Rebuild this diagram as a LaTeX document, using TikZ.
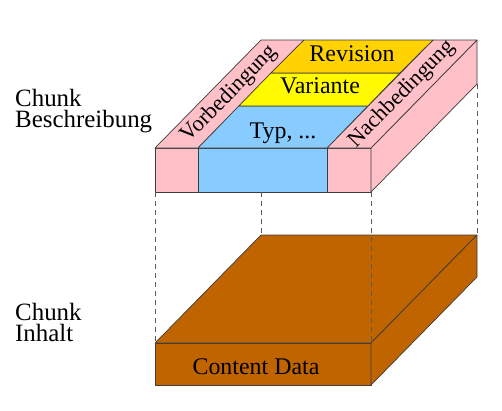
\documentclass[tikz,border=0pt]{standalone}
\usepackage{fontspec}
\setmainfont{Liberation Serif}
\newfontfamily\labelface{Liberation Serif}
\usetikzlibrary{calc}
\definecolor{stripPink}{RGB}{255,192,200}
\definecolor{typBlue}{RGB}{136,204,255}
\definecolor{varYellow}{RGB}{255,250,0}
\definecolor{revGold}{RGB}{255,210,0}
\definecolor{dataBrown}{RGB}{192,100,0}
\definecolor{edgeGray}{RGB}{60,60,60}
\definecolor{guideGray}{RGB}{90,90,90}
\begin{document}
\begin{tikzpicture}[x=1bp,y=-1bp,
  face/.style={draw=edgeGray, line width=0.7bp, line join=round},
  guide/.style={draw=guideGray, dash pattern=on 5bp off 4bp, line width=0.7bp},
  sidelbl/.style={font=\labelface\fontsize{25}{21}\selectfont, align=left, anchor=base west, inner sep=0pt},
  bandlbl/.style={font=\labelface\fontsize{24}{24}\selectfont, anchor=base, inner sep=0pt},
  striplbl/.style={font=\labelface\fontsize{22.5}{22.5}\selectfont, sloped, midway, inner sep=0pt}]
\useasboundingbox (0,0) rectangle (502,410);

% ---- description block (top) ----
% front face
\coordinate (tfl) at (155,148);
\coordinate (tfa) at (198,148);
\coordinate (tfb) at (327,148);
\coordinate (tfr) at (371,148);
\coordinate (bfl) at (155,192);
\coordinate (bfa) at (198,192);
\coordinate (bfb) at (327,192);
\coordinate (bfr) at (371,192);
% back edge of the top face
\coordinate (kbl) at (261,40);
\coordinate (kba) at (304,40);
\coordinate (kbb) at (433,40);
\coordinate (kbr) at (477,40);
\coordinate (kbrlow) at (477,84);

\path[face, fill=stripPink] (tfl) rectangle (bfa);
\path[face, fill=typBlue] (tfa) rectangle (bfb);
\path[face, fill=stripPink] (tfb) rectangle (bfr);
\path[face, fill=stripPink] (tfr) -- (kbr) -- (kbrlow) -- (bfr) -- cycle;

% top face: side strips
\path[face, fill=stripPink] (tfl) -- (tfa) -- (kba) -- (kbl) -- cycle;
\path[face, fill=stripPink] (tfb) -- (tfr) -- (kbr) -- (kbb) -- cycle;
% top face: middle bands
\coordinate (m1l) at ($(tfa)+(40.8,-42)$);
\coordinate (m1r) at ($(tfb)+(40.8,-42)$);
\coordinate (m2l) at ($(tfa)+(72.9,-75)$);
\coordinate (m2r) at ($(tfb)+(72.9,-75)$);
\path[face, fill=typBlue] (tfa) -- (tfb) -- (m1r) -- (m1l) -- cycle;
\path[face, fill=varYellow] (m1l) -- (m1r) -- (m2r) -- (m2l) -- cycle;
\path[face, fill=revGold] (m2l) -- (m2r) -- (kbb) -- (kba) -- cycle;

\node[bandlbl] (typ) at (283,138) {Typ, ...};
\node[bandlbl] (var) at (320,93) {Variante};
\node[bandlbl] (rev) at (352,61) {Revision};
\path (176.5,148) -- (282.5,40) node[striplbl] (vor) {Vorbedingung};
\path (349,148) -- (455,40) node[striplbl] (nach) {Nachbedingung};

% ---- content block (bottom) ----
\coordinate (cfl) at (155,343);
\coordinate (cfr) at (371,343);
\coordinate (cbl) at (155,385);
\coordinate (cbr) at (371,385);
\coordinate (ckl) at (261,235);
\coordinate (ckr) at (477,235);
\coordinate (ckrlow) at (477,277);

\path[face, fill=dataBrown] (cfl) rectangle (cbr);
\path[face, fill=dataBrown] (cfl) -- (ckl) -- (ckr) -- (cfr) -- cycle;
\path[face, fill=dataBrown] (cfr) -- (ckr) -- (ckrlow) -- (cbr) -- cycle;
\node[bandlbl] (data) at (256,374) {Content Data};

% ---- projection guides ----
\draw[guide] (bfl) -- (cfl);
\draw[guide] (261,192) -- (ckl);
\draw[guide] (bfr) -- (cfr);
\draw[guide] (kbrlow) -- (ckr);

% ---- side captions (anchored on the baseline of their last line) ----
\node[sidelbl] (beschr) at (15,127) {Chunk\\Beschreibung};
\node[sidelbl] (inhalt) at (15,341) {Chunk\\Inhalt};
\end{tikzpicture}
\end{document}
